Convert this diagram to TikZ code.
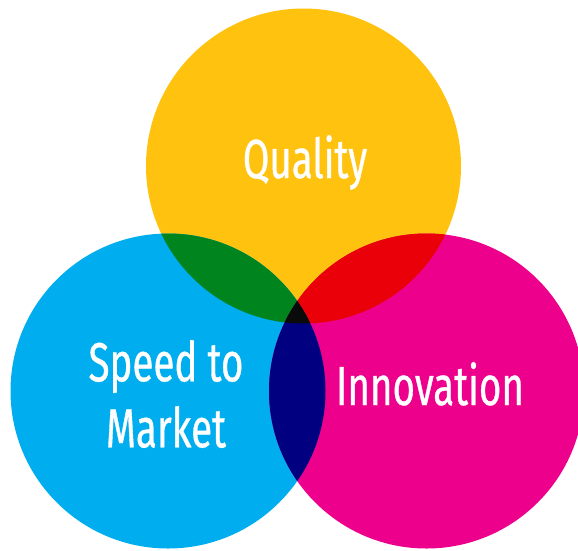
\documentclass[tikz,border=0pt]{standalone}
\usepackage{fontspec}
\newfontfamily\vennfont[FakeStretch=0.7, FakeBold=0.6]{Fira Sans}
\definecolor{qualyellow}{HTML}{FEC20F}
\definecolor{speedblue}{HTML}{00ADEE}
\definecolor{innovpink}{HTML}{EC008C}
\definecolor{mixgreen}{HTML}{00841D}
\definecolor{mixred}{HTML}{EA0009}
\definecolor{mixnavy}{HTML}{000081}
\definecolor{mixblack}{HTML}{0A0A0A}
\tikzset{
  label text/.style={text=white, inner sep=0pt, align=center,
    font=\vennfont\fontsize{55}{66}\selectfont}
}
\begin{document}
\begin{tikzpicture}[x=1pt, y=-1pt]
  \useasboundingbox (0, 0) rectangle (578, 550);
  \clip (0, 0) rectangle (578, 550);
  \def\rad{157.5}
  \coordinate (quality) at (303.5, 166);
  \coordinate (speed) at (168, 391);
  \coordinate (innov) at (426.5, 391);
  % the three circles
  \fill[qualyellow] (quality) circle (\rad);
  \fill[speedblue] (speed) circle (\rad);
  \fill[innovpink] (innov) circle (\rad);
  % overlaps
  \begin{scope}
    \clip (quality) circle (\rad);
    \fill[mixgreen] (speed) circle (\rad);
    \fill[mixred] (innov) circle (\rad);
  \end{scope}
  \begin{scope}
    \clip (speed) circle (\rad);
    \fill[mixnavy] (innov) circle (\rad);
    \clip (innov) circle (\rad);
    \fill[mixblack] (quality) circle (\rad);
  \end{scope}
  % labels
  \node[label text, anchor=base] (qualitytext) at (305, 178) {Quality};
  \node[label text, anchor=base] (innovtext) at (430, 405) {Innovation};
  \node[label text, anchor=center] (speedtext) at (166, 394) {Speed to\\Market};
\end{tikzpicture}
\end{document}
